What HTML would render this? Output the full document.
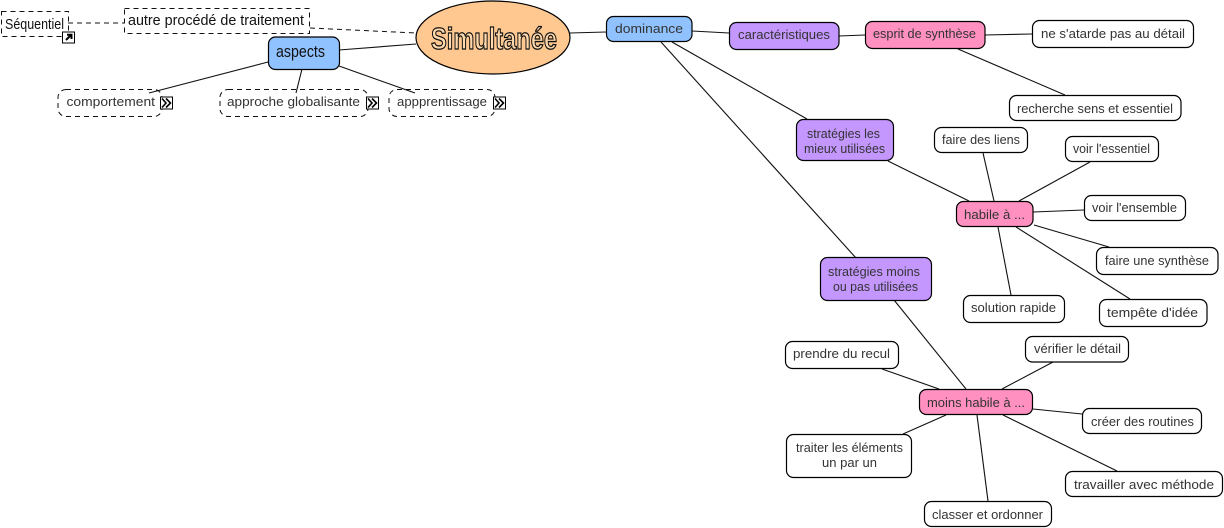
<!DOCTYPE html>
<html><head><meta charset="utf-8"><style>
html,body{margin:0;padding:0;background:#fff;width:1224px;height:528px;overflow:hidden}
svg{display:block}
.l{stroke:#111;stroke-width:1.1;fill:none}
.d{stroke:#111;stroke-width:1;fill:none;stroke-dasharray:5 4}
.n{stroke:#000;stroke-width:1.2}
.t{font-family:"Liberation Sans",sans-serif;font-size:13px;fill:#333}
.h{font-family:"Liberation Sans",sans-serif;font-size:15px;fill:#111}
</style></head><body>
<svg width="1224" height="528" viewBox="0 0 1224 528" xmlns="http://www.w3.org/2000/svg">
<g>
<line class="d" x1="68" y1="23" x2="124" y2="23"/>
<line class="d" x1="310" y1="28" x2="416" y2="33"/>
<line class="l" x1="339" y1="50" x2="416" y2="44"/>
<line class="l" x1="268" y1="62" x2="149" y2="93"/>
<line class="l" x1="302" y1="69" x2="296" y2="93"/>
<line class="l" x1="339" y1="66" x2="415" y2="93"/>
<line class="l" x1="570" y1="33" x2="606" y2="32"/>
<line class="l" x1="692" y1="31" x2="729" y2="33"/>
<line class="l" x1="839" y1="36" x2="865" y2="35"/>
<line class="l" x1="985" y1="35" x2="1032" y2="34"/>
<line class="l" x1="958" y1="49" x2="1065" y2="95"/>
<line class="l" x1="672" y1="42" x2="807" y2="119"/>
<line class="l" x1="661" y1="42" x2="856" y2="258"/>
<line class="l" x1="888" y1="161" x2="969" y2="201"/>
<line class="l" x1="983" y1="153" x2="994" y2="201"/>
<line class="l" x1="1090" y1="162" x2="1019" y2="201"/>
<line class="l" x1="1033" y1="212" x2="1084" y2="210"/>
<line class="l" x1="1034" y1="225" x2="1109" y2="247"/>
<line class="l" x1="1016" y1="227" x2="1130" y2="299"/>
<line class="l" x1="998" y1="227" x2="1011" y2="295"/>
<line class="l" x1="894" y1="300" x2="966" y2="389"/>
<line class="l" x1="882" y1="369" x2="939" y2="389"/>
<line class="l" x1="1053" y1="362" x2="1002" y2="389"/>
<line class="l" x1="1033" y1="409" x2="1082" y2="414"/>
<line class="l" x1="1003" y1="415" x2="1117" y2="471"/>
<line class="l" x1="977" y1="415" x2="988" y2="501"/>
<line class="l" x1="903" y1="434" x2="946" y2="415"/>
</g>

<!-- dashed nodes -->
<rect class="d" x="1.5" y="11.5" width="67" height="25"/>
<rect class="d" x="124.5" y="8.5" width="185" height="25"/>
<rect class="d" x="58" y="89.5" width="104" height="27" rx="8"/>
<rect class="d" x="220" y="89.5" width="148" height="27" rx="8"/>
<rect class="d" x="389" y="89.5" width="106" height="27" rx="8"/>

<!-- central -->
<ellipse class="n" cx="493" cy="37.5" rx="77" ry="36.5" fill="#ffc890"/>

<!-- coloured -->
<rect class="n" x="268.5" y="37" width="71" height="32.5" rx="7" fill="#90c2ff"/>
<rect class="n" x="606.5" y="16.5" width="85.5" height="25" rx="7" fill="#90c2ff"/>
<rect class="n" x="729.5" y="22.5" width="109.5" height="27" rx="7" fill="#c497ff"/>
<rect class="n" x="796.5" y="119.5" width="97" height="41" rx="7" fill="#c497ff"/>
<rect class="n" x="820.5" y="257.5" width="111" height="43" rx="7" fill="#c497ff"/>
<rect class="n" x="865.5" y="21.5" width="119.5" height="27" rx="7" fill="#ff90c0"/>
<rect class="n" x="956.5" y="201.5" width="76.5" height="25" rx="7" fill="#ff90c0"/>
<rect class="n" x="919.5" y="389.5" width="113" height="25" rx="7" fill="#ff90c0"/>

<!-- white -->
<g fill="#fff">
<rect class="n" x="1032.5" y="20.5" width="161" height="27" rx="7"/>
<rect class="n" x="1009.5" y="95.5" width="171.5" height="25" rx="7"/>
<rect class="n" x="934.5" y="127.5" width="93" height="25" rx="7"/>
<rect class="n" x="1065.5" y="136.5" width="93" height="25" rx="7"/>
<rect class="n" x="1084.5" y="195.5" width="101" height="25" rx="7"/>
<rect class="n" x="1096.5" y="247.5" width="121.5" height="27" rx="7"/>
<rect class="n" x="1099.5" y="299.5" width="107.5" height="27" rx="7"/>
<rect class="n" x="963.5" y="295.5" width="101" height="27" rx="7"/>
<rect class="n" x="785.5" y="341.5" width="113" height="27" rx="7"/>
<rect class="n" x="1025.5" y="336.5" width="103" height="25.5" rx="7"/>
<rect class="n" x="1082.5" y="408.5" width="119" height="25" rx="7"/>
<rect class="n" x="1065.5" y="471.5" width="157" height="25" rx="7"/>
<rect class="n" x="924.5" y="501.5" width="127" height="25" rx="7"/>
<rect class="n" x="786.5" y="434.5" width="125" height="43" rx="7"/>
</g>

<!-- icons -->
<g>
<rect x="62.5" y="32" width="12" height="11" fill="#fff" stroke="#000"/>
<path d="M66 40 L71 35 M67 34.8 L71.5 34.8 L71.5 39" stroke="#000" stroke-width="2" fill="none"/>
<rect x="160.5" y="97" width="12" height="12" fill="#fff" stroke="#000"/>
<path d="M162 98.5 L166 103 L162 107.5 M166 98.5 L170.5 103 L166 107.5" stroke="#000" stroke-width="1.6" fill="none"/>
<rect x="366.5" y="97" width="12" height="12" fill="#fff" stroke="#000"/>
<path d="M368 98.5 L372 103 L368 107.5 M372 98.5 L376.5 103 L372 107.5" stroke="#000" stroke-width="1.6" fill="none"/>
<rect x="493.5" y="97" width="12" height="12" fill="#fff" stroke="#000"/>
<path d="M495 98.5 L499 103 L495 107.5 M499 98.5 L503.5 103 L499 107.5" stroke="#000" stroke-width="1.6" fill="none"/>
</g>

<!-- handwriting labels -->
<text class="h" x="5" y="29" textLength="59" lengthAdjust="spacingAndGlyphs">Séquentiel</text>
<text class="h" x="128" y="25" textLength="176" lengthAdjust="spacingAndGlyphs">autre procédé de traitement</text>
<text class="h" x="276" y="57" textLength="49" lengthAdjust="spacingAndGlyphs" style="font-size:17px">aspects</text>
<text x="431" y="49" textLength="126" lengthAdjust="spacingAndGlyphs" style="font-family:'Liberation Sans',sans-serif;font-weight:bold;font-size:31px;fill:#ffd9ac;stroke:#111;stroke-width:1.3">Simultanée</text>

<!-- labels -->
<g>
<text class="t" x="66.5" y="106" textLength="88.5" lengthAdjust="spacingAndGlyphs">comportement</text>
<text class="t" x="227" y="106" textLength="133" lengthAdjust="spacingAndGlyphs">approche globalisante</text>
<text class="t" x="397" y="106" textLength="90" lengthAdjust="spacingAndGlyphs">appprentissage</text>
<text class="t" x="615" y="33" textLength="68" lengthAdjust="spacingAndGlyphs">dominance</text>
<text class="t" x="738" y="39" textLength="92" lengthAdjust="spacingAndGlyphs">caractéristiques</text>
<text class="t" x="873" y="38" textLength="103" lengthAdjust="spacingAndGlyphs">esprit de synthèse</text>
<text class="t" x="1041" y="38" textLength="144" lengthAdjust="spacingAndGlyphs">ne s'atarde pas au détail</text>
<text class="t" x="1017" y="113" textLength="156" lengthAdjust="spacingAndGlyphs">recherche sens et essentiel</text>
<text class="t" x="807" y="138" textLength="73" lengthAdjust="spacingAndGlyphs">stratégies les</text>
<text class="t" x="804" y="153" textLength="81" lengthAdjust="spacingAndGlyphs">mieux utilisées</text>
<text class="t" x="828" y="276" textLength="92" lengthAdjust="spacingAndGlyphs">stratégies moins</text>
<text class="t" x="833" y="291" textLength="85" lengthAdjust="spacingAndGlyphs">ou pas utilisées</text>
<text class="t" x="964" y="219" textLength="61" lengthAdjust="spacingAndGlyphs">habile à ...</text>
<text class="t" x="942" y="144" textLength="78" lengthAdjust="spacingAndGlyphs">faire des liens</text>
<text class="t" x="1073" y="153" textLength="77" lengthAdjust="spacingAndGlyphs">voir l'essentiel</text>
<text class="t" x="1092" y="212" textLength="85" lengthAdjust="spacingAndGlyphs">voir l'ensemble</text>
<text class="t" x="1105" y="265" textLength="104" lengthAdjust="spacingAndGlyphs">faire une synthèse</text>
<text class="t" x="1107" y="317" textLength="91" lengthAdjust="spacingAndGlyphs">tempête d'idée</text>
<text class="t" x="971" y="312" textLength="85" lengthAdjust="spacingAndGlyphs">solution rapide</text>
<text class="t" x="927" y="407" textLength="98" lengthAdjust="spacingAndGlyphs">moins habile à ...</text>
<text class="t" x="793" y="358" textLength="97" lengthAdjust="spacingAndGlyphs">prendre du recul</text>
<text class="t" x="1034" y="353" textLength="87" lengthAdjust="spacingAndGlyphs">vérifier le détail</text>
<text class="t" x="1091" y="426" textLength="103" lengthAdjust="spacingAndGlyphs">créer des routines</text>
<text class="t" x="1074" y="489" textLength="140" lengthAdjust="spacingAndGlyphs">travailler avec méthode</text>
<text class="t" x="932" y="519" textLength="111" lengthAdjust="spacingAndGlyphs">classer et ordonner</text>
<text class="t" x="796" y="452" textLength="107" lengthAdjust="spacingAndGlyphs">traiter les éléments</text>
<text class="t" x="822" y="467" textLength="55" lengthAdjust="spacingAndGlyphs">un par un</text>
</g>
</svg>
</body></html>
